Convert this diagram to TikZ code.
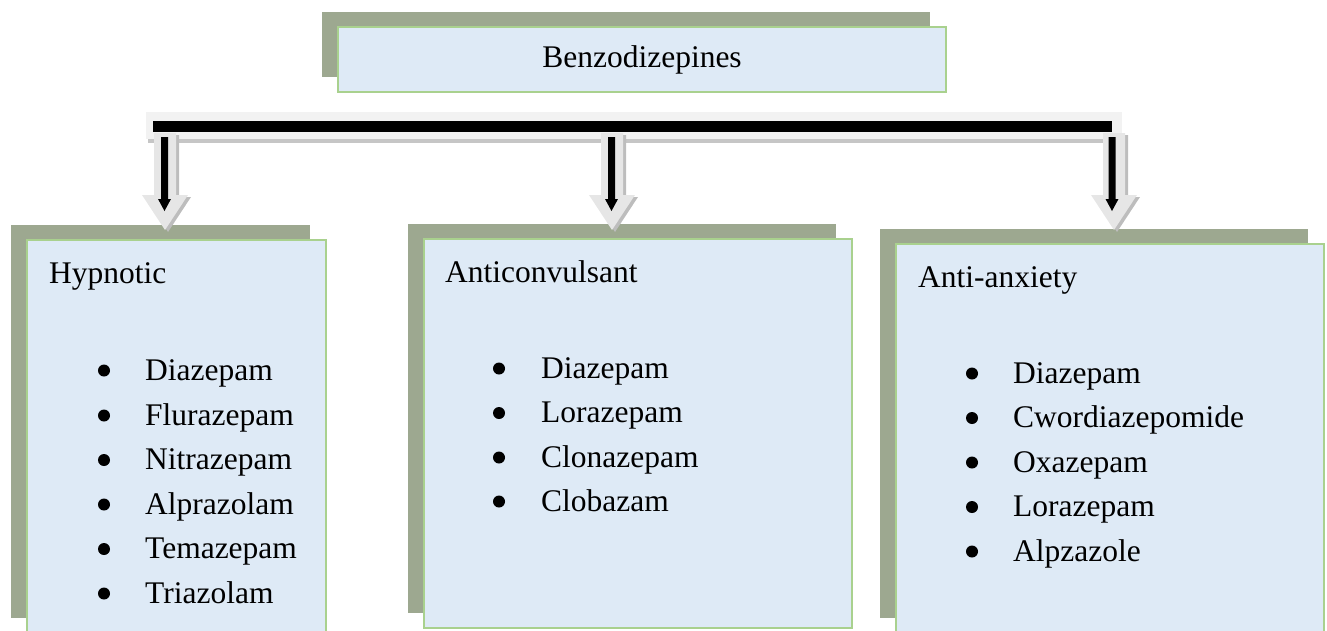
\documentclass[tikz,border=0pt]{standalone}
\usepackage{fontspec}
\setmainfont{Liberation Serif}
\usetikzlibrary{shadows}
\definecolor{shadowcol}{HTML}{9DA890}
\definecolor{boxfill}{HTML}{DEEAF6}
\definecolor{boxline}{HTML}{A9D18E}
\definecolor{barlight}{HTML}{F2F2F2}
\definecolor{bardark}{HTML}{C6C6C6}
\definecolor{arrlight}{HTML}{E6E6E6}
\definecolor{arrdark}{HTML}{BDBDBD}
\begin{document}
\begin{tikzpicture}[x=1pt,y=-1pt,
  txt/.style={font=\fontsize{31.5}{40}\selectfont, text=black},
  panel/.style={draw=boxline, line width=2pt, fill=boxfill, anchor=north west,
    inner sep=0pt, outer sep=0pt, txt,
    general shadow={shadow xshift=-16pt, shadow yshift=15pt, fill=shadowcol}},
  head/.style={txt, anchor=base west, inner sep=0pt},
  item/.style={txt, anchor=base west, inner sep=0pt},
  dot/.style={circle, fill=black, inner sep=0pt, minimum size=12pt}]
\useasboundingbox (0,0) rectangle (1327,630);
\clip (0,0) rectangle (1327,630);

% panels
\node[panel, minimum width=608pt, minimum height=65pt] (top) at (338,27) {};
\node[txt] (title) at (top.center) {Benzodizepines};
\node[panel, minimum width=299pt, minimum height=393pt] (hyp) at (27,240) {};
\node[panel, minimum width=428pt, minimum height=389pt] (conv) at (424,239) {};
\node[panel, minimum width=428pt, minimum height=389pt] (anx) at (896,244) {};

% headers
\node[head] (hyph) at (49,283) {Hypnotic};
\node[head] (convh) at (445,282) {Anticonvulsant};
\node[head] (anxh) at (918,287) {Anti-anxiety};

% Hypnotic items
\foreach \y/\t [count=\i] in {380/Diazepam, 425/Flurazepam, 469.5/Nitrazepam, 514/Alprazolam, 558.5/Temazepam, 603/Triazolam}{
  \node[dot] (hd\i) at (104,{\y-9.5}) {};
  \node[item] (hi\i) at (145,\y) {\t};
}
% Anticonvulsant items
\foreach \y/\t [count=\i] in {378/Diazepam, 422.5/Lorazepam, 467/Clonazepam, 511/Clobazam}{
  \node[dot] (cd\i) at (499,{\y-9.5}) {};
  \node[item] (ci\i) at (541,\y) {\t};
}
% Anti-anxiety items
\foreach \y/\t [count=\i] in {383/Diazepam, 427.5/Cwordiazepomide, 472/Oxazepam, 516.5/Lorazepam, 561/Alpzazole}{
  \node[dot] (ad\i) at (972,{\y-9.5}) {};
  \node[item] (ai\i) at (1013,\y) {\t};
}

% connector bar
\fill[barlight] (146,112) rectangle (1122,139);
\fill[bardark] (148,139) rectangle (1122,143);
\fill[black] (153,121) rectangle (1112,132);

% arrows
\foreach \cx/\bx in {165/164.5, 612/611.5, 1114/1112}{
  \fill[arrdark] ({\cx-8},135) -- ({\cx+14},135) -- ({\cx+14},197) -- ({\cx+26},197)
     -- ({\cx+3},232) -- ({\cx-20},197) -- ({\cx-8},197) -- cycle;
  \fill[arrlight] ({\cx-11},133) -- ({\cx+11},133) -- ({\cx+11},195) -- ({\cx+23},195)
     -- (\cx,230) -- ({\cx-23},195) -- ({\cx-11},195) -- cycle;
  \fill[black] ({\bx-3.5},137) -- ({\bx+3.5},137) -- ({\bx+3.5},199) -- ({\bx+6.5},199)
     -- (\bx,211) -- ({\bx-6.5},199) -- ({\bx-3.5},199) -- cycle;
}
\end{tikzpicture}
\end{document}
